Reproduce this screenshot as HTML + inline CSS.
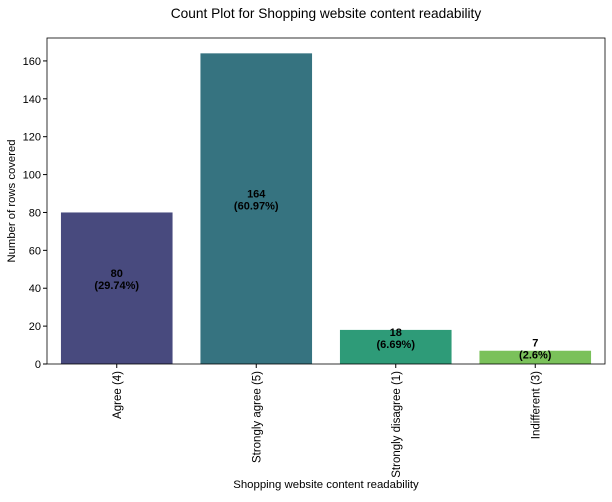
<!DOCTYPE html>
<html><head><meta charset="utf-8"><style>
body{margin:0;background:#fff;}
svg text{font-family:"Liberation Sans",sans-serif;}
</style></head><body>
<svg width="612" height="497" xmlns="http://www.w3.org/2000/svg">
<rect width="612" height="497" fill="#fff"/>
<text x="326" y="18" font-size="13.7" text-anchor="middle">Count Plot for Shopping website content readability</text>
<g id="plot"></g>
<text x="326" y="488" font-size="11.4" text-anchor="middle">Shopping website content readability</text>
<text transform="translate(15,201) rotate(-90)" font-size="11.3" text-anchor="middle">Number of rows covered</text>
</svg>
<script>
const categories=["Agree (4)","Strongly agree (5)","Strongly disagree (1)","Indifferent (3)"];
const counts=[80,164,18,7];
const percents=["29.74%","60.97%","6.69%","2.6%"];
const yTicks=[0,20,40,60,80,100,120,140,160];
const colors=["#484a7e","#367380","#2e9b78","#7ac15a"];
const L=47,R=605,T=38,B=364,yMax=172.1;
const NS="http://www.w3.org/2000/svg";
const g=document.getElementById('plot');
function y(v){return B-(v/yMax)*(B-T);}
const slot=(R-L)/categories.length;
function x(i){return L+slot*(i+0.5);}
function mk(t,a){const e=document.createElementNS(NS,t);for(const k in a)e.setAttribute(k,a[k]);g.appendChild(e);return e;}
categories.forEach((c,i)=>{
 const bw=slot*0.8;
 const r=mk('rect',{x:x(i)-bw/2,y:y(counts[i]),width:bw,height:B-y(counts[i]),fill:colors[i]});
 
 
 const ym=y(counts[i]/2);
 const t=mk('text',{x:x(i),y:ym-11,'font-size':11,'font-weight':'bold','text-anchor':'middle'});
 t.textContent=counts[i];
 
 
 const t2=mk('text',{x:x(i),y:ym+1,'font-size':11,'font-weight':'bold','text-anchor':'middle'});
 t2.textContent='('+percents[i]+')';
 
 
 mk('line',{x1:x(i),x2:x(i),y1:B,y2:B+4,stroke:'#000','stroke-width':1});
 const xl=mk('text',{transform:`translate(${x(i)+4},${B+7}) rotate(-90)`,'font-size':11.5,'text-anchor':'end'});
 xl.textContent=c;
 
 
});
yTicks.forEach(v=>{
 mk('line',{x1:L-4,x2:L,y1:y(v),y2:y(v),stroke:'#000','stroke-width':1});
 const t=mk('text',{x:L-6,y:y(v)+4,'font-size':11,'text-anchor':'end'});
 t.textContent=v;
 
 
});
const f=mk('rect',{x:L,y:T,width:R-L,height:B-T,fill:'none',stroke:'#000','stroke-width':0.8});


</script>
</body></html>
